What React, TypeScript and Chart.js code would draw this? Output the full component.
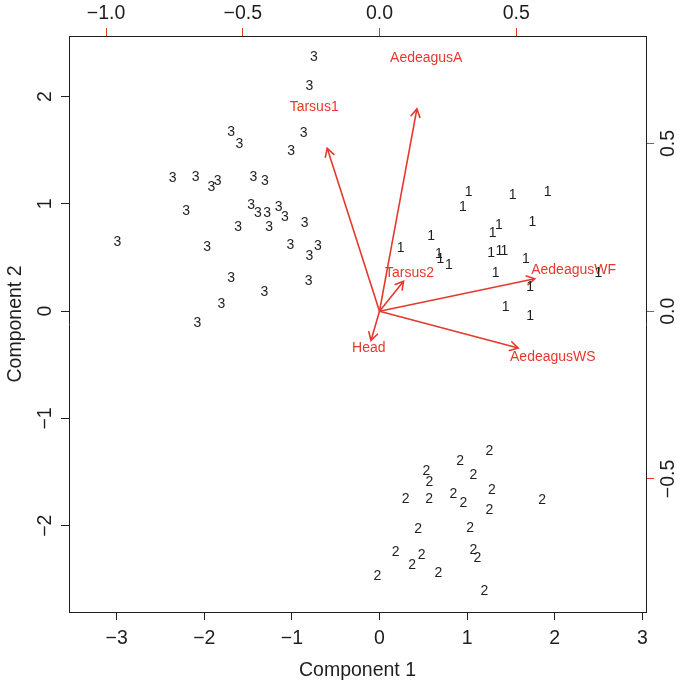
import React, { useEffect, useRef } from 'react';
import { Chart, registerables } from 'chart.js';

Chart.register(...registerables);

// ---- Scores (Component 1, Component 2), one array pair per group ----
const group1X = [1.018, 0.953, 1.521, 1.920, 1.364, 1.292, 1.744, 0.588, 0.242, 0.679, 0.696, 0.793, 1.273, 1.368, 1.425, 1.672, 1.326, 2.498, 1.718, 1.441, 1.718];
const group1Y = [1.114, 0.974, 1.083, 1.109, 0.804, 0.726, 0.829, 0.701, 0.586, 0.533, 0.487, 0.431, 0.540, 0.564, 0.564, 0.484, 0.353, 0.359, 0.223, 0.036, -0.045];

const group2X = [1.253, 0.919, 0.534, 0.568, 1.071, 1.284, 0.299, 0.565, 0.842, 0.957, 1.253, 1.855, 0.440, 1.033, 0.185, 0.482, 0.371, 1.071, 1.116, 0.671, -0.025, 1.196];
const group2Y = [-1.304, -1.394, -1.487, -1.590, -1.527, -1.667, -1.754, -1.754, -1.707, -1.786, -1.854, -1.760, -2.037, -2.019, -2.248, -2.273, -2.366, -2.227, -2.304, -2.438, -2.466, -2.615];

const group3X = [-0.748, -0.801, -0.865, -1.010, -1.695, -1.600, -2.361, -2.098, -1.847, -1.920, -1.441, -1.310, -2.209, -1.467, -1.390, -1.284, -1.151, -1.079, -1.615, -1.261, -0.854, -2.993, -1.969, -1.018, -0.705, -0.801, -1.695, -0.808, -1.315, -1.806, -2.080];
const group3Y = [2.367, 2.100, 1.664, 1.497, 1.674, 1.559, 1.239, 1.254, 1.214, 1.161, 1.248, 1.217, 0.937, 0.987, 0.913, 0.918, 0.974, 0.881, 0.782, 0.788, 0.825, 0.645, 0.596, 0.614, 0.608, 0.515, 0.312, 0.279, 0.179, 0.067, -0.113];

const groupChars = ['1', '2', '3'];

// ---- Loadings (label positions; arrows reach 0.8 of them) ----
const loadingNames = ['AedeagusA', 'Tarsus1', 'Tarsus2', 'AedeagusWF', 'AedeagusWS', 'Head'];
const loadingX = [0.171, -0.239, 0.110, 0.710, 0.634, -0.039];
const loadingY = [0.754, 0.607, 0.112, 0.121, -0.1375, -0.109];
const arrowFraction = 0.8;

// ---- Axes ----
const bottomTicks = [-3, -2, -1, 0, 1, 2, 3];
const leftTicks = [-2, -1, 0, 1, 2];
const topTicks = [-1.0, -0.5, 0.0, 0.5];
const rightTicks = [-0.5, 0.0, 0.5];
const xRange = [-3.545, 3.042];
const yRange = [-2.805, 2.566];
const x2Range = [-1.1357, 0.9748];
const y2Range = [-0.8968, 0.8205];

const FONT = '"Liberation Sans", Arial, Helvetica, sans-serif';
const INK = '#1e1e1e';
const RED = '#e5392e';
const AXIS_SIZE = 19.5;

const minus = (s: string) => s.replace('-', '\u2212');
const fmtInt = (v: number) => minus(String(Math.round(v)));
const fmt1 = (v: number) => minus(v.toFixed(1));

const biplotPlugin = {
  id: 'biplot',
  afterDatasetsDraw(chart: any) {
    const ctx = chart.ctx as CanvasRenderingContext2D;
    const area = chart.chartArea;
    chart.data.datasets.forEach((ds: any, i: number) => {
      const meta = chart.getDatasetMeta(i);
      if (ds.pointChar) {
        ctx.save();
        ctx.beginPath();
        ctx.rect(area.left, area.top, area.right - area.left, area.bottom - area.top);
        ctx.clip();
        ctx.font = `14px ${FONT}`;
        ctx.fillStyle = INK;
        ctx.textAlign = 'center';
        ctx.textBaseline = 'middle';
        meta.data.forEach((el: any) => ctx.fillText(ds.pointChar, el.x, el.y));
        ctx.restore();
      }
      if (ds.arrowName) {
        const p0 = meta.data[0];
        const p1 = meta.data[1];
        const ang = Math.atan2(p1.y - p0.y, p1.x - p0.x);
        const len = 9;
        const spread = Math.PI / 6;
        ctx.save();
        ctx.strokeStyle = RED;
        ctx.lineWidth = 1.6;
        ctx.lineCap = 'round';
        ctx.beginPath();
        ctx.moveTo(p1.x - len * Math.cos(ang - spread), p1.y - len * Math.sin(ang - spread));
        ctx.lineTo(p1.x, p1.y);
        ctx.lineTo(p1.x - len * Math.cos(ang + spread), p1.y - len * Math.sin(ang + spread));
        ctx.stroke();
        const sx = chart.scales.x2;
        const sy = chart.scales.y2;
        ctx.font = `14px ${FONT}`;
        ctx.fillStyle = RED;
        ctx.textAlign = 'center';
        ctx.textBaseline = 'middle';
        ctx.fillText(ds.arrowName, sx.getPixelForValue(ds.labelAt[0]), sy.getPixelForValue(ds.labelAt[1]));
        ctx.restore();
      }
    });
    // rotated y tick labels (R style, las = 0)
    const drawRot = (text: string, x: number, y: number) => {
      ctx.save();
      ctx.translate(x, y);
      ctx.rotate(-Math.PI / 2);
      ctx.font = `${AXIS_SIZE}px ${FONT}`;
      ctx.fillStyle = INK;
      ctx.textAlign = 'center';
      ctx.textBaseline = 'middle';
      ctx.fillText(text, 0, 0);
      ctx.restore();
    };
    const sy = chart.scales.y;
    leftTicks.forEach((v) => drawRot(fmtInt(v), 46, sy.getPixelForValue(v)));
    const sy2 = chart.scales.y2;
    rightTicks.forEach((v) => drawRot(fmt1(v), 669, sy2.getPixelForValue(v)));
  },
};

export default function App() {
  const ref = useRef<HTMLCanvasElement | null>(null);

  useEffect(() => {
    if (!ref.current) return;
    const toPts = (xs: number[], ys: number[]) => xs.map((x, i) => ({ x, y: ys[i] }));
    const groups = [
      toPts(group1X, group1Y),
      toPts(group2X, group2Y),
      toPts(group3X, group3Y),
    ];
    const pointSets = groups.map((data, gi) => ({
      type: 'scatter',
      data,
      pointChar: groupChars[gi],
      pointRadius: 0,
      pointHoverRadius: 0,
      showLine: false,
      xAxisID: 'x',
      yAxisID: 'y',
    }));
    const arrowSets = loadingNames.map((name, i) => ({
      type: 'scatter',
      data: [
        { x: 0, y: 0 },
        { x: loadingX[i] * arrowFraction, y: loadingY[i] * arrowFraction },
      ],
      arrowName: name,
      labelAt: [loadingX[i], loadingY[i]],
      showLine: true,
      borderColor: RED,
      borderWidth: 1.6,
      pointRadius: 0,
      pointHoverRadius: 0,
      xAxisID: 'x2',
      yAxisID: 'y2',
    }));

    const tickFont = { family: FONT, size: AXIS_SIZE };
    const chart = new Chart(ref.current, {
      type: 'scatter',
      data: { datasets: [...arrowSets, ...pointSets] as any },
      options: {
        responsive: false,
        animation: false,
        events: [],
        layout: { padding: 0 },
        plugins: { legend: { display: false }, tooltip: { enabled: false } },
        scales: {
          x: {
            type: 'linear',
            position: 'bottom',
            min: xRange[0],
            max: xRange[1],
            afterBuildTicks: (s: any) => { s.ticks = bottomTicks.map((value) => ({ value })); },
            afterFit: (s: any) => { s.height = 73; },
            grid: { drawOnChartArea: false, drawTicks: true, tickLength: 8, color: INK, lineWidth: 1 },
            border: { display: true, color: INK, width: 1 },
            ticks: { padding: 7, color: INK, font: tickFont, maxRotation: 0, autoSkip: false, callback: (v: any) => fmtInt(Number(v)) },
            title: { display: true, text: 'Component 1', color: INK, font: tickFont, padding: { top: 0, bottom: 3 } },
          },
          y: {
            type: 'linear',
            position: 'left',
            min: yRange[0],
            max: yRange[1],
            afterBuildTicks: (s: any) => { s.ticks = leftTicks.map((value) => ({ value })); },
            afterFit: (s: any) => { s.width = 69; },
            grid: { drawOnChartArea: false, drawTicks: true, tickLength: 8, color: INK, lineWidth: 1 },
            border: { display: true, color: INK, width: 1 },
            ticks: { display: false },
            title: { display: true, text: 'Component 2', color: INK, font: tickFont, padding: { top: 4, bottom: 0 } },
          },
          x2: {
            type: 'linear',
            position: 'top',
            min: x2Range[0],
            max: x2Range[1],
            afterBuildTicks: (s: any) => { s.ticks = topTicks.map((value) => ({ value })); },
            afterFit: (s: any) => { s.height = 36; },
            grid: { drawOnChartArea: false, drawTicks: true, tickLength: 8, color: RED, lineWidth: 1 },
            border: { display: true, color: INK, width: 1 },
            ticks: { padding: 3, color: INK, font: tickFont, maxRotation: 0, autoSkip: false, callback: (v: any) => fmt1(Number(v)) },
          },
          y2: {
            type: 'linear',
            position: 'right',
            min: y2Range[0],
            max: y2Range[1],
            afterBuildTicks: (s: any) => { s.ticks = rightTicks.map((value) => ({ value })); },
            afterFit: (s: any) => { s.width = 39; },
            grid: { drawOnChartArea: false, drawTicks: true, tickLength: 8, color: RED, lineWidth: 1 },
            border: { display: true, color: INK, width: 1 },
            ticks: { display: false },
          },
        },
      } as any,
      plugins: [biplotPlugin],
    });
    return () => chart.destroy();
  }, []);

  return (
    <div style={{ position: 'absolute', left: 0, top: 0, width: 685, height: 685, background: '#fff' }}>
      <canvas ref={ref} width={685} height={685} style={{ display: 'block', width: 685, height: 685 }} />
    </div>
  );
}
